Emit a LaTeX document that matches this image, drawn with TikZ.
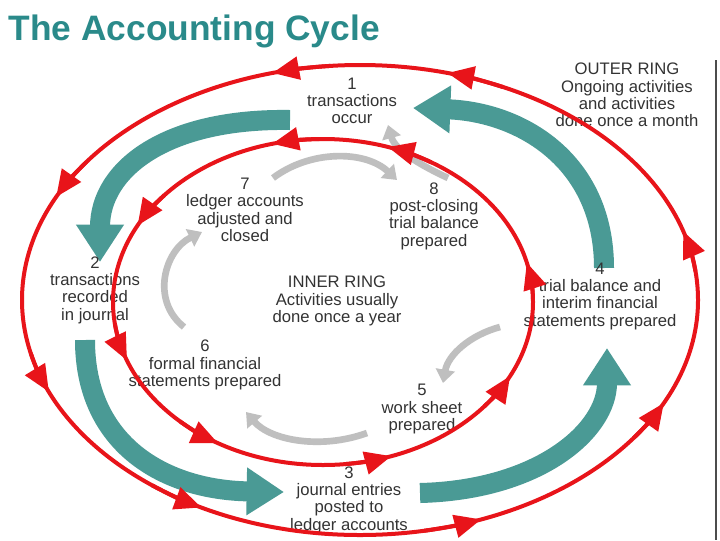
\documentclass[tikz,border=0pt]{standalone}
\usepackage{fontspec}
\setmainfont{Liberation Sans}
\usetikzlibrary{arrows.meta}
\definecolor{tealc}{HTML}{4A9A95}
\definecolor{redc}{HTML}{E8141A}
\definecolor{titlec}{HTML}{2A8A8A}
\begin{document}
\begin{tikzpicture}[x=0.75pt,y=-0.75pt,
  lbl/.style={align=center,font=\fontsize{12.5}{13}\selectfont,text=black!80,inner sep=0pt},
  tealarrow/.style={draw=tealc,line width=15pt,-{Triangle[length=28pt,width=34pt]}},
  grayarrow/.style={draw=black!25,line width=5pt,-{Triangle[length=10pt,width=14pt]}},
  redring/.style={draw=redc,line width=3pt},
  redtip/.style={draw=redc,line width=3pt,-{Triangle[length=20pt,width=17pt]}}]
\useasboundingbox (0,0) rectangle (720,540);
\fill[white] (0,0) rectangle (720,540);
\node[anchor=west,font=\bfseries\fontsize{26.5}{29}\selectfont,text=titlec] (title) at (4,31) {The Accounting Cycle};
\draw[black!70,line width=0.8pt] (716,60) -- (716,540);
% teal outer arrows
\coordinate (t1) at (290,120); \coordinate (h1) at (100,262);
\coordinate (t2) at (85,340); \coordinate (h2) at (284,492);
\coordinate (t3) at (420,493); \coordinate (h3) at (607,348);
\coordinate (t4) at (604,268); \coordinate (h4) at (413,108);
\draw[tealarrow] (t1) .. controls (165,118) and (100,170) .. (h1);
\draw[tealarrow] (t2) .. controls (85,445) and (165,490) .. (h2);
\draw[tealarrow] (t3) .. controls (540,490) and (607,430) .. (h3);
\draw[tealarrow] (t4) .. controls (604,160) and (520,112) .. (h4);
% gray inner arrows
\coordinate (g1a) at (273,178); \coordinate (g1b) at (397,180);
\coordinate (g2a) at (448,178); \coordinate (g2b) at (388,125);
\coordinate (g3a) at (500,327); \coordinate (g3b) at (443,383);
\coordinate (g4a) at (367,433); \coordinate (g4b) at (246,412);
\coordinate (g5a) at (184,327); \coordinate (g5b) at (202,232);
\draw[grayarrow] (g1a) .. controls (310,150) and (365,150) .. (g1b);
\draw[grayarrow] (g2a) .. controls (420,165) and (395,150) .. (g2b);
\draw[grayarrow] (g3a) .. controls (470,335) and (448,355) .. (g3b);
\draw[grayarrow] (g4a) .. controls (320,450) and (270,440) .. (g4b);
\draw[grayarrow] (g5a) .. controls (150,300) and (165,250) .. (g5b);
% labels
\node[lbl] (n1) at (352,101) {1\\transactions\\occur};
\node[lbl] (outer) at (627,95) {OUTER RING\\Ongoing activities\\and activities\\done once a month};
\node[lbl] (n7) at (245,210) {7\\ledger accounts\\adjusted and\\closed};
\node[lbl] (n8) at (434,216) {8\\post-closing\\trial balance\\prepared};
\node[lbl] (n2) at (95,290) {2\\transactions\\recorded\\in journal};
\node[lbl] (inner) at (337,301) {INNER RING\\Activities usually\\done once a year};
\node[lbl] (n4) at (600,296) {4\\trial balance and\\interim financial\\statements prepared};
\node[lbl] (n6) at (205,365) {6\\formal financial\\statements prepared};
\node[lbl] (n5) at (422,409) {5\\work sheet\\prepared};
\node[lbl] (n3) at (349,500) {3\\journal entries\\posted to\\ledger accounts};
% red rings
\draw[redring] (360,300) ellipse [x radius=338, y radius=235];
\draw[redring] (323,302) ellipse [x radius=210, y radius=163];
\foreach \a in {17,75,105,154,203,242,291,334}
  \draw[redtip] ([shift={(-\a+10:338 and 235)}]360,300) arc[start angle=-\a+10,end angle=-\a,x radius=338,y radius=235];
\foreach \a in {14,72,104,152,201,240,289,333}
  \draw[redtip] ([shift={(-\a+13:210 and 163)}]323,302) arc[start angle=-\a+13,end angle=-\a,x radius=210,y radius=163];
\end{tikzpicture}
\end{document}
